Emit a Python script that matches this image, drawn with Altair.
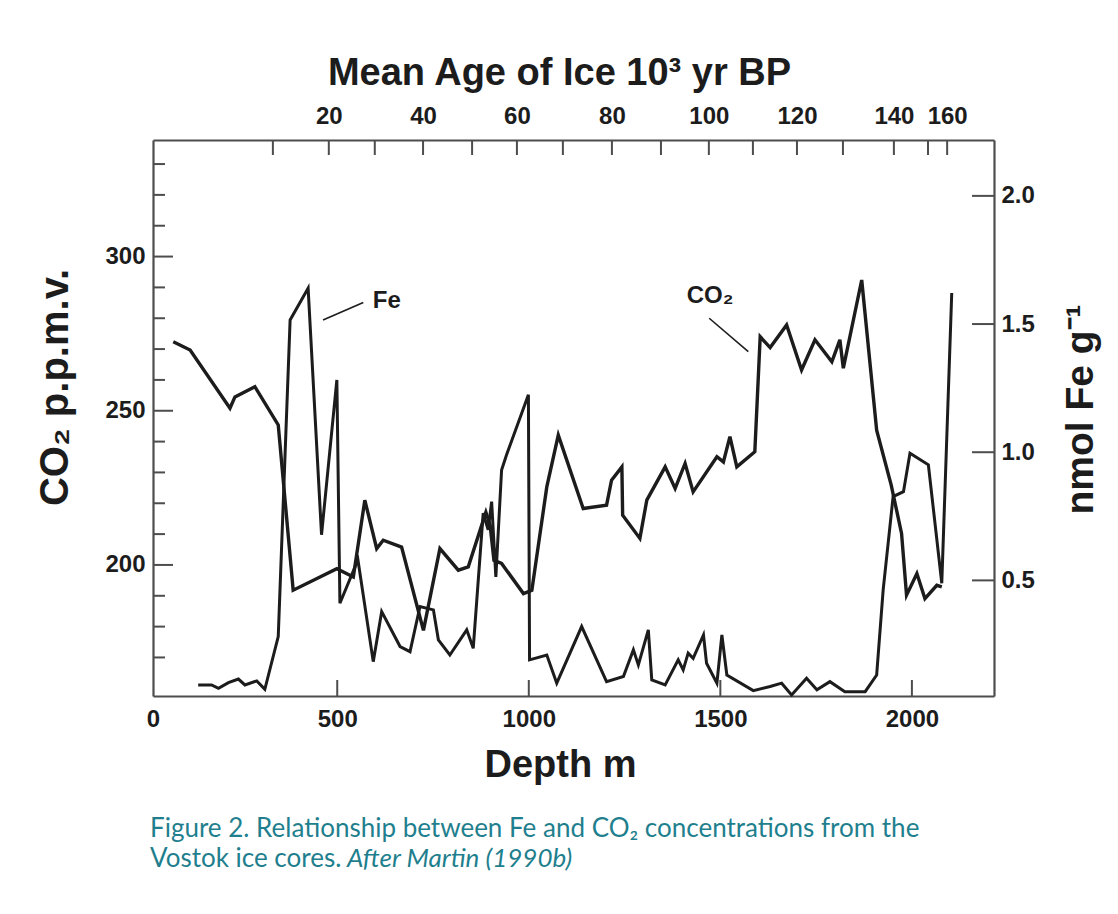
import altair as alt
import pandas as pd

# ---------------- data ----------------
# CO2 record (depth in m, CO2 in p.p.m.v.)
co2_depth = [72, 116, 220, 233, 285, 346, 385, 455, 499, 542,
             572, 603, 620, 668, 725, 768, 816, 842, 888, 899,
             909, 929, 986, 1008, 1047, 1077, 1142, 1203, 1216, 1243,
             1245, 1290, 1308, 1356, 1382, 1408, 1429, 1491, 1508, 1525,
             1543, 1590, 1604, 1630, 1673, 1712, 1747, 1791, 1812, 1821,
             1869, 1908, 1946, 1973, 1986, 2013, 2034, 2065, 2078]
co2_ppmv = [272.4, 269.7, 250.8, 254.5, 257.8, 245.4, 191.8, 196.1, 198.8, 196.1,
            221.0, 205.3, 208.0, 205.8, 178.8, 205.3, 198.3, 199.4, 217.1, 212.9,
            201.5, 200.5, 190.7, 191.8, 225.3, 242.1, 218.3, 219.4, 227.5, 231.8,
            216.1, 208.6, 221.0, 231.8, 224.8, 232.9, 223.7, 235.1, 233.4, 241.6,
            231.8, 236.7, 274.0, 270.5, 277.8, 263.2, 273.0, 265.9, 273.0, 263.8,
            292.4, 243.7, 225.9, 210.2, 190.2, 197.2, 189.1, 193.4, 192.9]

# Fe record (depth in m, nmol Fe per g)
fe_depth = [137, 172, 190, 216, 242, 259, 290, 311, 346, 377,
            424, 459, 499, 507, 554, 594, 616, 664, 690, 716,
            751, 764, 794, 838, 855, 881, 894, 903, 914, 929,
            942, 999, 1002, 1047, 1073, 1138, 1203, 1247, 1273, 1286,
            1312, 1321, 1356, 1390, 1403, 1416, 1429, 1456, 1464, 1491,
            1504, 1517, 1586, 1630, 1660, 1686, 1725, 1752, 1786, 1825,
            1878, 1908, 1925, 1951, 1978, 1995, 2043, 2078, 2104]
fe_nmol = [0.092, 0.092, 0.079, 0.101, 0.115, 0.092, 0.108, 0.075, 0.281, 1.516,
           1.640, 0.678, 1.282, 0.411, 0.580, 0.183, 0.378, 0.242, 0.222, 0.398,
           0.385, 0.268, 0.209, 0.307, 0.235, 0.762, 0.697, 0.807, 0.514, 0.931,
           0.990, 1.224, 0.190, 0.209, 0.099, 0.320, 0.105, 0.125, 0.229, 0.170,
           0.307, 0.112, 0.092, 0.190, 0.151, 0.216, 0.196, 0.287, 0.177, 0.099,
           0.287, 0.131, 0.070, 0.086, 0.099, 0.053, 0.118, 0.073, 0.105, 0.066,
           0.066, 0.131, 0.463, 0.827, 0.846, 0.996, 0.951, 0.489, 1.621]

# axis ticks
depth_labels = [19.1, 500, 1000, 1500, 2000]          # first one is the "0" at the corner
depth_ticks = [500, 1000, 1500, 2000]
co2_major = [200, 250, 300]
co2_minor = [170, 180, 190, 210, 220, 230, 240, 260, 270, 280, 290, 310, 320, 330]
fe_major = [0.5, 1.0, 1.5, 2.0]
# mean age of ice (10^3 yr BP) and the depth at which each top tick sits
age_ticks = [10, 20, 30, 40, 50, 60, 70, 80, 90, 100, 110, 120, 130, 140, 150, 160]
age_depth = [332, 478, 598, 724, 852, 969, 1089, 1217, 1345, 1470, 1585, 1700, 1820, 1953, 2042, 2092]
age_labeled = [20, 40, 60, 80, 100, 120, 140, 160]

# annotations
fe_label = {"d": 593, "c": 285.5, "t": "Fe"}
fe_leader = {"d": 463, "c": 279.4, "d2": 568, "c2": 285.1}
co2_label = {"d": 1412, "c": 287.2, "t": "CO\u2082"}
co2_leader = {"d": 1471, "c": 280.0, "d2": 1573, "c2": 269.2}

caption_1 = "Figure 2. Relationship between Fe and CO\u2082 concentrations from the"
caption_2a = "Vostok ice cores."
caption_2b = "After Martin (1990b)"

# ---------------- chart ----------------
W, H = 841, 556
FONT = "Liberation Sans"
INK = "#1c1c1c"
FRAME = "#4d4d4d"

x_scale = alt.Scale(domain=[19.1, 2214.3], nice=False, zero=False)
co2_scale = alt.Scale(domain=[157.5, 337.8], nice=False, zero=False)
fe_scale = alt.Scale(domain=[0.049, 2.218], nice=False, zero=False)

co2_df = pd.DataFrame({"depth": co2_depth, "ppmv": co2_ppmv, "i": range(len(co2_depth))})
fe_df = pd.DataFrame({"depth": fe_depth, "fe": fe_nmol, "i": range(len(fe_depth))})

lab_ages = {d: a for a, d in zip(age_ticks, age_depth) if a in age_labeled}
age_expr = " : ".join(f"abs(datum.value - {d}) < 1 ? '{a}'" for d, a in lab_ages.items()) + " : ''"

label_style = dict(labelFont=FONT, labelFontSize=24, labelFontWeight="bold", labelColor=INK,
                   labelFlush=False, labelOverlap=False, ticks=False, grid=False,
                   domainColor=FRAME, domainWidth=2.2)
title_style = dict(titleFont=FONT, titleFontWeight="bold", titleColor=INK,
                   titleBaseline="alphabetic", titleAlign="center")

bottom_axis = alt.Axis(
    orient="bottom", values=depth_labels,
    labelExpr="datum.value < 100 ? '0' : format(datum.value, 'd')",
    labelPadding=11, title="Depth m", titleFontSize=38, titleX=407, titleY=80,
    **label_style, **title_style,
)
top_axis = alt.Axis(
    orient="top", values=list(lab_ages.keys()), labelExpr=age_expr, labelPadding=12,
    title="Mean Age of Ice 10\u00b3 yr BP", titleFontSize=38, titleX=406, titleY=-56,
    **label_style, **title_style,
)
left_axis = alt.Axis(
    orient="left", values=co2_major, format="d", labelPadding=8,
    title="CO\u2082 p.p.m.v.", titleFontSize=40, titleAngle=270, titleX=-86, titleY=247,
    **label_style, **title_style,
)
right_axis = alt.Axis(
    orient="right", values=fe_major, format=".1f", labelPadding=7,
    title="nmol Fe g\u207b\u00b9", titleFontSize=39, titleAngle=270, titleX=98, titleY=269,
    **label_style, **title_style,
)

co2_line = alt.Chart(co2_df).mark_line(color=INK, strokeWidth=3.4, strokeJoin="miter").encode(
    x=alt.X("depth:Q", scale=x_scale, axis=bottom_axis),
    y=alt.Y("ppmv:Q", scale=co2_scale, axis=left_axis),
    order="i:Q",
)
fe_line = alt.Chart(fe_df).mark_line(color=INK, strokeWidth=3.0, strokeJoin="miter").encode(
    x=alt.X("depth:Q", scale=x_scale, axis=None),
    y=alt.Y("fe:Q", scale=fe_scale, axis=right_axis),
    order="i:Q",
)

top_ticks = alt.Chart(pd.DataFrame({"d": age_depth})).mark_rule(color=FRAME, strokeWidth=2).encode(
    x=alt.X("d:Q", scale=x_scale, axis=top_axis),
    y=alt.value(0), y2=alt.value(15),
)
bottom_ticks = alt.Chart(pd.DataFrame({"d": depth_ticks})).mark_rule(color=FRAME, strokeWidth=2).encode(
    x=alt.X("d:Q", scale=x_scale, axis=None),
    y=alt.value(H - 16), y2=alt.value(H),
)
left_minor = alt.Chart(pd.DataFrame({"v": co2_minor})).mark_rule(color=FRAME, strokeWidth=2).encode(
    y=alt.Y("v:Q", scale=co2_scale, axis=None),
    x=alt.value(0), x2=alt.value(12),
)
left_major = alt.Chart(pd.DataFrame({"v": co2_major})).mark_rule(color=FRAME, strokeWidth=2).encode(
    y=alt.Y("v:Q", scale=co2_scale, axis=None),
    x=alt.value(0), x2=alt.value(20),
)
fe_ticks = alt.Chart(pd.DataFrame({"v": fe_major})).mark_rule(color=FRAME, strokeWidth=2).encode(
    y=alt.Y("v:Q", scale=fe_scale, axis=None),
    x=alt.value(W - 22), x2=alt.value(W),
)

ann_text = alt.Chart(pd.DataFrame([fe_label, co2_label])).mark_text(
    font=FONT, fontSize=24, fontWeight="bold", color=INK, align="left", baseline="middle"
).encode(
    x=alt.X("d:Q", scale=x_scale, axis=None),
    y=alt.Y("c:Q", scale=co2_scale, axis=None),
    text="t:N",
)
ann_lines = alt.Chart(pd.DataFrame([fe_leader, co2_leader])).mark_rule(color=INK, strokeWidth=1.6).encode(
    x=alt.X("d:Q", scale=x_scale, axis=None), x2="d2:Q",
    y=alt.Y("c:Q", scale=co2_scale, axis=None), y2="c2:Q",
)

cap_df = pd.DataFrame({"k": [0]})
CAP = "#1f7f8e"
cap1 = alt.Chart(cap_df).mark_text(
    text=caption_1, font="Lato", fontSize=26, color=CAP, align="left", baseline="alphabetic"
).encode(x=alt.value(-3), y=alt.value(697))
cap2 = alt.Chart(cap_df).mark_text(
    text=caption_2a, font="Lato", fontSize=26, color=CAP, align="left", baseline="alphabetic"
).encode(x=alt.value(-3), y=alt.value(727))
cap3 = alt.Chart(cap_df).mark_text(
    text=caption_2b, font="Lato", fontSize=26, fontStyle="italic", color=CAP,
    align="left", baseline="alphabetic"
).encode(x=alt.value(194), y=alt.value(727))

chart = alt.layer(
    co2_line, fe_line, top_ticks, bottom_ticks, left_minor, left_major, fe_ticks,
    ann_text, ann_lines, cap1, cap2, cap3,
).resolve_scale(y="independent").properties(
    width=W, height=H,
    autosize=alt.AutoSizeParams(type="none"),
    padding={"left": 145, "top": 132, "right": 116, "bottom": 210},
    background="white",
).configure_view(stroke=None)

chart.save("out.html", embed_options={"renderer": "svg", "actions": False})
